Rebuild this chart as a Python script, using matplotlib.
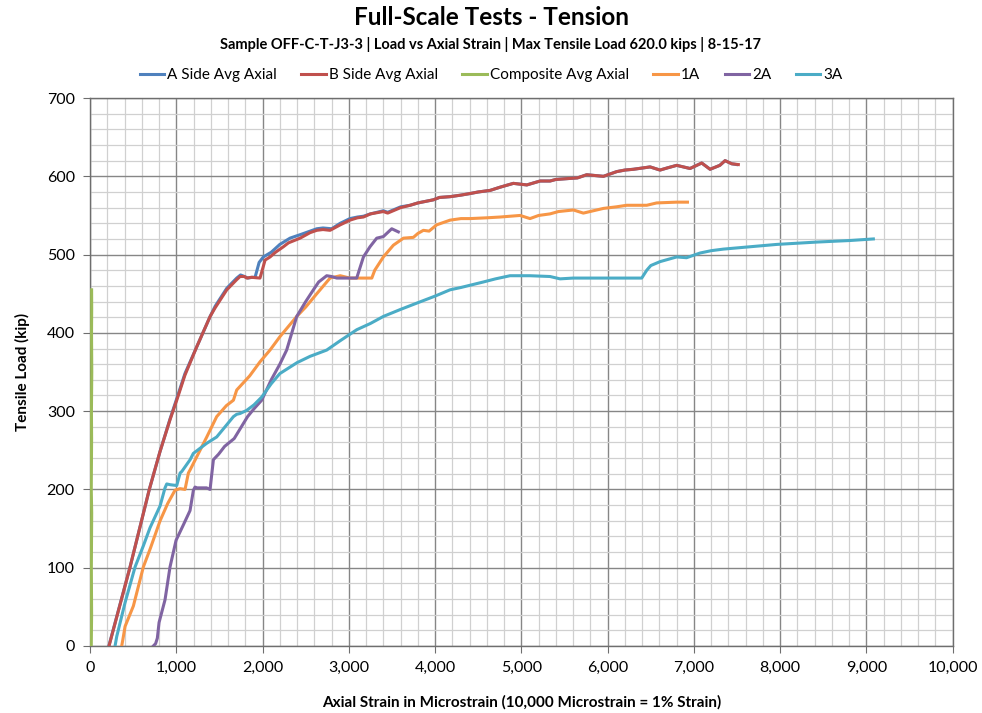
import matplotlib
matplotlib.use("Agg")
import matplotlib.pyplot as plt
from matplotlib.ticker import MultipleLocator, FuncFormatter

plt.rcParams['font.family'] = ['Lato', 'DejaVu Sans']

# strain (microstrain) / load (kip) pairs for each gauge group
a_strain = [218, 464, 687, 810, 927, 1005, 1100, 1236, 1392, 1450, 1585, 1700, 1745, 1790,
            1830, 1880, 1913, 1960, 2009, 2100, 2200, 2318, 2450, 2628, 2700, 2800, 2900, 3013, 3100, 3169,
            3250, 3400, 3450, 3600, 3710, 3800, 3980, 4050, 4173, 4300, 4405, 4500, 4637, 4750, 4907, 5063,
            5217, 5332, 5400, 5525, 5650, 5757, 5951, 6105, 6200, 6299, 6492, 6607, 6700, 6800, 6955, 7090,
            7187, 7300, 7361, 7439, 7495]
a_load = [0, 101, 200, 248, 290, 316, 348, 382, 421, 434, 457, 470, 474, 472,
          470, 471, 471, 490, 497, 503, 513, 521, 526, 533, 534, 533, 540, 546, 548, 549,
          552, 556, 554, 561, 563, 566, 570, 573, 574, 576, 578, 580, 582, 586, 591, 589,
          594, 594, 596, 597, 598, 602, 600, 606, 608, 609, 612, 608, 611, 614, 610, 617,
          609, 614, 620, 616, 615]

b_strain = [220, 464, 687, 810, 927, 1005, 1100, 1236, 1392, 1450, 1585, 1700, 1739, 1790,
            1816, 1870, 1970, 2029, 2087, 2150, 2241, 2300, 2435, 2550, 2628, 2700, 2782, 2900, 3013, 3100,
            3169, 3250, 3400, 3450, 3600, 3710, 3800, 3980, 4050, 4173, 4300, 4405, 4500, 4637, 4750, 4907,
            5063, 5217, 5332, 5400, 5525, 5650, 5757, 5951, 6105, 6200, 6299, 6492, 6607, 6700, 6800, 6955,
            7090, 7187, 7300, 7361, 7439, 7515]
b_load = [0, 101, 200, 248, 289, 314, 346, 382, 421, 432, 455, 468, 472, 472,
          470, 471, 470, 493, 497, 503, 510, 515, 521, 528, 531, 532, 531, 538, 544, 547,
          548, 552, 555, 553, 560, 563, 566, 570, 573, 574, 576, 578, 580, 582, 586, 591,
          589, 594, 594, 596, 597, 598, 602, 600, 606, 608, 609, 612, 608, 611, 614, 610,
          617, 609, 614, 620, 616, 615]

comp_strain = [14, 18, 15, 19, 14, 18, 16, 20, 17, 19, 18]
comp_load = [0, 40, 100, 170, 200, 265, 300, 350, 400, 430, 455]

g1a_strain = [367, 380, 406, 502, 618, 700, 812, 900, 985, 1043, 1101, 1140, 1160, 1275, 1353, 1468,
              1580, 1662, 1700, 1850, 1970, 2086, 2200, 2396, 2500, 2628, 2782, 2900, 3013, 3266, 3300,
              3400, 3516, 3633, 3748, 3800, 3864, 3930, 4018, 4173, 4300, 4405, 4600, 4754, 4985, 5100,
              5200, 5332, 5430, 5603, 5718, 5951, 6100, 6221, 6453, 6568, 6800, 6925]
g1a_load = [0, 8, 25, 51, 101, 125, 160, 182, 199, 201, 200, 221, 225, 250, 267, 293,
            307, 314, 327, 345, 363, 378, 395, 421, 433, 450, 470, 473, 470, 470, 480,
            497, 512, 521, 522, 527, 531, 530, 538, 544, 546, 546, 547, 548, 550, 546,
            550, 552, 555, 557, 553, 559, 561, 563, 563, 566, 567, 567]

g2a_strain = [734, 760, 780, 800, 869, 927, 997, 1083, 1159, 1198, 1217, 1240, 1350,
              1391, 1430, 1490, 1560, 1671, 1826, 1900, 1990, 2100, 2200, 2279, 2396, 2500, 2589, 2650,
              2743, 2800, 2860, 3091, 3169, 3245, 3323, 3400, 3497, 3574]
g2a_load = [0, 3, 10, 30, 59, 101, 135, 155, 173, 199, 203, 202, 202,
            200, 238, 245, 255, 265, 293, 303, 314, 340, 360, 378, 421, 440, 455, 465,
            473, 472, 470, 470, 497, 510, 521, 523, 533, 529]

g3a_strain = [290, 309, 405, 522, 618, 695, 812, 869, 889, 930, 1005, 1044, 1064, 1160, 1197, 1353,
              1468, 1580, 1662, 1700, 1739, 1816, 1900, 1990, 2100, 2200, 2400, 2550, 2743, 2900, 3091,
              3250, 3400, 3600, 3787, 4000, 4173, 4300, 4559, 4700, 4868, 5100, 5332, 5448, 5600, 5718,
              6395, 6453, 6500, 6607, 6800, 6914, 7071, 7200, 7341, 7650, 7960, 8424, 8810, 9080]
g3a_load = [0, 12, 55, 101, 128, 151, 179, 202, 207, 206, 205, 221, 223, 238, 246, 259,
            267, 282, 293, 296, 297, 301, 308, 318, 335, 348, 362, 370, 378, 390, 404,
            412, 421, 430, 438, 447, 455, 458, 465, 469, 473, 473, 472, 469, 470, 470,
            470, 480, 486, 491, 497, 496, 502, 505, 507, 510, 513, 516, 518, 520]

fig = plt.figure(figsize=(9.82, 7.13), dpi=100)
ax = fig.add_axes([0.0917, 0.094, 0.8785, 0.7685])

lw = 2.2
ax.plot(a_strain, a_load, color='#4F81BD', lw=lw, label='A Side Avg Axial', zorder=3)
ax.plot(b_strain, b_load, color='#C0504D', lw=lw, label='B Side Avg Axial', zorder=3)
ax.plot(comp_strain, comp_load, color='#9BBB59', lw=lw, label='Composite Avg Axial', zorder=3)
ax.plot(g1a_strain, g1a_load, color='#F79646', lw=lw, label='1A', zorder=3)
ax.plot(g2a_strain, g2a_load, color='#8064A2', lw=lw, label='2A', zorder=3)
ax.plot(g3a_strain, g3a_load, color='#4BACC6', lw=lw, label='3A', zorder=3)

ax.set_xlim(0, 10000)
ax.set_ylim(0, 700)
ax.xaxis.set_major_locator(MultipleLocator(1000))
ax.xaxis.set_minor_locator(MultipleLocator(200))
ax.yaxis.set_major_locator(MultipleLocator(100))
ax.yaxis.set_minor_locator(MultipleLocator(20))
ax.xaxis.set_major_formatter(FuncFormatter(lambda v, p: f'{int(v):,}'))
ax.grid(which='minor', color='#D0D0D0', lw=0.9)
ax.grid(which='major', color='#868686', lw=1.0)
ax.set_axisbelow(True)
for s in ax.spines.values():
    s.set_color('#6E6E6E')
    s.set_linewidth(1.0)
ax.tick_params(which='major', direction='out', length=5, color='#6E6E6E', labelsize=11.5, pad=6)
ax.tick_params(which='minor', length=0)

ax.set_xlabel('Axial Strain in Microstrain (10,000 Microstrain = 1% Strain)', fontsize=11,
              fontweight='bold', labelpad=14)
ax.set_ylabel('Tensile Load (kip)', fontsize=11, fontweight='bold', labelpad=12)

fig.text(0.5, 0.975, 'Full-Scale Tests - Tension', ha='center', va='center', fontsize=17.5, fontweight='bold')
fig.text(0.5, 0.938, 'Sample OFF-C-T-J3-3 | Load vs Axial Strain | Max Tensile Load 620.0 kips | 8-15-17',
         ha='center', va='center', fontsize=10.5, fontweight='bold')
fig.legend(loc='center', bbox_to_anchor=(0.5, 0.895), ncol=6, frameon=False, fontsize=11,
           handlelength=1.6, handletextpad=0.2, columnspacing=1.6)

fig.savefig('out.png', dpi=100)
